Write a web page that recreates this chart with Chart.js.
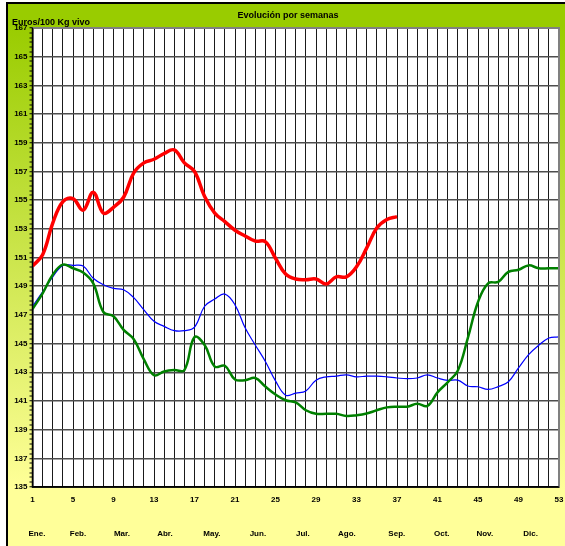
<!DOCTYPE html>
<html>
<head>
<meta charset="utf-8">
<script src="https://cdn.jsdelivr.net/npm/chart.js@4.4.1/dist/chart.umd.min.js"></script>
<style>
html,body{margin:0;padding:0;background:#fff;}
#c{display:block;}
</style>
</head>
<body>
<canvas id="c" width="565" height="546"></canvas>
<script>
// ---- data ----
const weeks = [1,2,3,4,5,6,7,8,9,10,11,12,13,14,15,16,17,18,19,20,21,22,23,24,25,26,27,28,29,30,31,32,33,34,35,36,37,38,39,40,41,42,43,44,45,46,47,48,49,50,51,52,53];
const redSeries = [150.4,151.2,153.4,154.9,155.1,154.3,155.55,154.1,154.5,155.2,156.9,157.6,157.85,158.25,158.5,157.6,157.0,155.25,154.1,153.5,152.9,152.5,152.15,152.1,150.95,149.85,149.5,149.45,149.5,149.15,149.65,149.65,150.35,151.65,153.05,153.65,153.85];
const greenSeries = [147.4,148.5,149.8,150.5,150.25,149.95,149.2,147.2,146.9,145.95,145.3,143.9,142.8,143.05,143.15,143.15,145.45,144.9,143.4,143.45,142.5,142.45,142.6,142.0,141.45,141.05,140.9,140.35,140.1,140.1,140.1,139.95,140.0,140.12,140.35,140.55,140.6,140.6,140.8,140.65,141.6,142.3,143.1,145.4,147.9,149.2,149.3,150.0,150.15,150.45,150.25,150.25,150.25];
const blueSeries = [147.6,148.6,149.65,150.45,150.45,150.4,149.55,149.1,148.85,148.75,148.2,147.35,146.55,146.2,145.9,145.9,146.15,147.6,148.1,148.45,147.7,146.1,144.9,143.75,142.4,141.4,141.55,141.7,142.45,142.68,142.73,142.82,142.68,142.73,142.73,142.68,142.6,142.55,142.6,142.82,142.6,142.43,142.45,142.04,141.99,141.8,142.0,142.34,143.3,144.23,144.88,145.39,145.46];
const weekTickLabels = [1,5,9,13,17,21,25,29,33,37,41,45,49,53];
const yTickLabels = [135,137,139,141,143,145,147,149,151,153,155,157,159,161,163,165,167];
const monthLabels = ['Ene.','Feb.','Mar.','Abr.','May.','Jun.','Jul.','Ago.','Sep.','Oct.','Nov.','Dic.'];
const monthTickWeeks = [1.44,5.49,9.83,14.08,18.72,23.26,27.7,32.05,36.98,41.42,45.67,50.2];
const titleText = 'Evolución por semanas';
const yAxisTitle = 'Euros/100 Kg vivo';

const toXY = arr => arr.map((v,i)=>({x:weeks[i], y:v}));
const FONT = "'Liberation Sans', Arial, sans-serif";

const yMinorPerMajor = 6; // 5 minor ticks between labelled values
const bgPlugin = {
  id:'bg',
  beforeDraw(chart){
    const ctx = chart.ctx, W = chart.width, H = chart.height;
    ctx.save();
    ctx.fillStyle = '#fff';
    ctx.fillRect(0,0,W,H);
    const g = ctx.createLinearGradient(0,25,0,490);
    g.addColorStop(0,'#99CC00');
    g.addColorStop(1,'#FFFF99');
    ctx.fillStyle = g;
    ctx.fillRect(7,3,W-7,H-3);
    ctx.fillStyle = '#FFFF99';
    ctx.fillRect(7,490,W-7,H-490);
    const a = chart.chartArea;
    ctx.fillStyle = '#fff';
    ctx.fillRect(a.left,a.top,a.right-a.left,a.bottom-a.top);
    ctx.restore();
  },
  afterDraw(chart){
    const ctx = chart.ctx, W = chart.width, H = chart.height;
    const a = chart.chartArea;
    ctx.save();
    ctx.strokeStyle = '#808080';
    ctx.lineWidth = 2;
    ctx.beginPath();
    ctx.moveTo(a.left, a.top);
    ctx.lineTo(a.right, a.top);
    ctx.lineTo(a.right, a.bottom);
    ctx.stroke();
    ctx.strokeStyle = '#000';
    ctx.lineWidth = 1.5;
    ctx.beginPath();
    ctx.moveTo(a.left, a.top);
    ctx.lineTo(a.left, a.bottom);
    ctx.lineTo(a.right, a.bottom);
    ctx.stroke();
    ctx.fillStyle = '#000';
    ctx.fillRect(6,2,W-6,2);
    ctx.fillRect(6,2,2,H-2);
    ctx.font = 'bold 9px ' + FONT;
    ctx.textBaseline = 'middle';
    ctx.textAlign = 'center';
    ctx.fillText(titleText, 288, 16);
    ctx.textAlign = 'left';
    ctx.fillText(yAxisTitle, 12, 23);
    ctx.restore();
  }
};

new Chart(document.getElementById('c'), {
  type:'line',
  data:{
    datasets:[
      {data:toXY(redSeries), borderColor:'#FF0000', borderWidth:3.5, tension:0.4, pointRadius:0, fill:false},
      {data:toXY(greenSeries), borderColor:'#008000', borderWidth:2.5, tension:0.4, pointRadius:0, fill:false},
      {data:toXY(blueSeries), borderColor:'#0000FF', borderWidth:1.2, tension:0.4, pointRadius:0, fill:false}
    ]
  },
  options:{
    responsive:false,
    animation:false,
    devicePixelRatio:1,
    layout:{padding:{left:0,right:6,top:28,bottom:0}},
    plugins:{legend:{display:false}, tooltip:{enabled:false}, title:{display:false}},
    scales:{
      x:{
        type:'linear', position:'bottom', min:1, max:53, weight:0,
        afterBuildTicks(s){ s.ticks = weeks.map(v=>({value:v})); },
        afterFit(s){ s.height = 22; s.paddingLeft = 0; s.paddingRight = 0; },
        grid:{color:'#1a1a1a', lineWidth:1, drawTicks:false},
        border:{display:true, color:'#000', width:1.5},
        ticks:{autoSkip:false, maxRotation:0, padding:8, color:'#000',
          font:{family:FONT, size:8, weight:'bold'},
          callback:(v)=> weekTickLabels.includes(v) ? String(v) : ''}
      },
      x2:{
        type:'linear', position:'bottom', min:1, max:53, weight:1,
        afterBuildTicks(s){ s.ticks = monthTickWeeks.map(v=>({value:v})); },
        afterFit(s){ s.height = 37; s.paddingLeft = 0; s.paddingRight = 0; },
        grid:{display:false, drawTicks:false},
        border:{display:false},
        ticks:{autoSkip:false, maxRotation:0, padding:20, color:'#000',
          font:{family:FONT, size:8, weight:'bold'},
          callback:(v,i)=> monthLabels[i]}
      },
      y:{
        type:'linear', min:135, max:167,
        afterBuildTicks(s){
          const t=[];
          const n=(yTickLabels.length-1)*yMinorPerMajor;
          for(let i=0;i<=n;i++){ t.push({value:135 + i*(167-135)/n}); }
          s.ticks=t;
        },
        afterFit(s){ s.width = 32.5; s.paddingTop = 0; s.paddingBottom = 0; },
        grid:{
          color:(c)=> (c.index % yMinorPerMajor === 0) ? '#4d4d4d' : 'rgba(0,0,0,0)',
          lineWidth:(c)=> (c.index % yMinorPerMajor === 0) ? 1.5 : 0,
          tickColor:'#000', tickLength:3, drawTicks:true, tickWidth:1
        },
        border:{display:true, color:'#000', width:1.5},
        ticks:{autoSkip:false, padding:2, color:'#000',
          font:{family:FONT, size:8, weight:'bold'},
          callback:(v,i)=> (i % yMinorPerMajor === 0) ? String(yTickLabels[i/yMinorPerMajor]) : ''}
      }
    }
  },
  plugins:[bgPlugin]
});
</script>
</body>
</html>
